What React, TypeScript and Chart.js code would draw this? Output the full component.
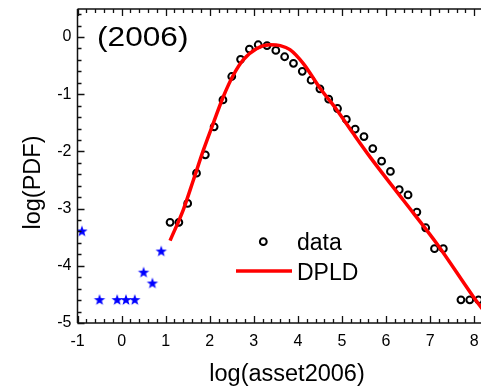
import { useEffect, useRef } from "react";
import { Chart, registerables } from "chart.js";

Chart.register(...registerables);

// ---- data ----
const starX = [-0.9, -0.5, -0.1, 0.1, 0.3, 0.5, 0.7, 0.9];
const starY = [-3.4, -4.6, -4.6, -4.6, -4.6, -4.12, -4.31, -3.75];

const dataX = [1.1, 1.3, 1.5, 1.7, 1.9, 2.1, 2.3, 2.5, 2.7, 2.9, 3.1, 3.3, 3.5, 3.7, 3.9, 4.1, 4.3, 4.5, 4.7, 4.9, 5.1, 5.3, 5.5, 5.7, 5.9, 6.1, 6.3, 6.5, 6.7, 6.9, 7.1, 7.3, 7.7, 7.9, 8.1];
const dataY = [-3.24, -3.24, -2.91, -2.38, -2.06, -1.57, -1.1, -0.69, -0.39, -0.21, -0.135, -0.15, -0.235, -0.345, -0.46, -0.6, -0.755, -0.905, -1.087, -1.25, -1.44, -1.61, -1.74, -1.95, -2.17, -2.35, -2.67, -2.76, -3.06, -3.335, -3.7, -3.7, -4.595, -4.595, -4.595];

const fitX = [1.1, 1.4, 1.63, 1.86, 2.08, 2.31, 2.54, 2.76, 3.07, 3.37, 3.6, 3.82, 4.12, 4.5, 4.88, 5.25, 5.64, 6.39, 7.15, 7.98, 8.2];
const fitY = [-3.56, -3.02, -2.5, -1.97, -1.51, -1.04, -0.66, -0.4, -0.2, -0.135, -0.15, -0.22, -0.46, -0.89, -1.27, -1.68, -2.1, -2.85, -3.61, -4.54, -4.77];

const xTicks = [-1, 0, 1, 2, 3, 4, 5, 6, 7, 8];
const yTicks = [-5, -4, -3, -2, -1, 0];
const xTitle = "log(asset2006)";
const yTitle = "log(PDF)";
const panelLabel = "(2006)";
const legendLabels = ["data", "DPLD"];

const FONT = "'Liberation Sans', Arial, Helvetica, sans-serif";

function makeStar(R: number, color: string) {
  const s = Math.ceil(2 * R + 2);
  const c = document.createElement("canvas");
  c.width = s;
  c.height = s;
  const ctx = c.getContext("2d")!;
  const cx = s / 2;
  const cy = s / 2;
  ctx.beginPath();
  for (let i = 0; i < 10; i++) {
    const a = -Math.PI / 2 + (i * Math.PI) / 5;
    const r = i % 2 === 0 ? R : R * 0.4;
    const px = cx + r * Math.cos(a);
    const py = cy + r * Math.sin(a);
    if (i === 0) ctx.moveTo(px, py);
    else ctx.lineTo(px, py);
  }
  ctx.closePath();
  ctx.fillStyle = color;
  ctx.fill();
  return c;
}

const framePlugin = {
  id: "frame",
  afterDraw(chart: any) {
    const { ctx, chartArea, scales } = chart;
    const xs = scales.x;
    const ys = scales.y;
    const { left, right, top, bottom } = chartArea;
    ctx.save();
    ctx.strokeStyle = "#111";
    ctx.lineWidth = 1.5;
    ctx.beginPath();
    ctx.moveTo(left, top);
    ctx.lineTo(right, top);
    ctx.moveTo(left, top);
    ctx.lineTo(left, bottom);
    ctx.moveTo(left, bottom);
    ctx.lineTo(right, bottom);
    ctx.stroke();
    ctx.lineWidth = 1.3;
    ctx.beginPath();
    for (let i = -5; i <= 45; i++) {
      const v = i * 0.2;
      if (v < xs.min - 1e-9 || v > xs.max + 1e-9) continue;
      const px = Math.round(xs.getPixelForValue(v)) + 0.5;
      const len = i % 5 === 0 ? 7 : 4;
      ctx.moveTo(px, bottom);
      ctx.lineTo(px, bottom - len);
      ctx.moveTo(px, top);
      ctx.lineTo(px, top + len);
    }
    for (let i = -25; i <= 5; i++) {
      const v = i * 0.2;
      if (v < ys.min - 1e-9 || v > ys.max + 1e-9) continue;
      const py = Math.round(ys.getPixelForValue(v)) + 0.5;
      const len = i % 5 === 0 ? 7 : 4;
      ctx.moveTo(left, py);
      ctx.lineTo(left + len, py);
    }
    ctx.stroke();

    // axis titles
    ctx.fillStyle = "#000";
    ctx.font = `23.5px ${FONT}`;
    ctx.textAlign = "center";
    ctx.textBaseline = "alphabetic";
    ctx.fillText(xTitle, 287, 381);
    ctx.save();
    ctx.translate(39.5, 182.5);
    ctx.rotate(-Math.PI / 2);
    ctx.fillText(yTitle, 0, 0);
    ctx.restore();

    // panel label
    ctx.save();
    ctx.textAlign = "left";
    ctx.font = `28px ${FONT}`;
    ctx.translate(97, 46);
    ctx.scale(1.13, 1);
    ctx.fillText(panelLabel, 0, 0);
    ctx.restore();

    // legend
    ctx.textAlign = "left";
    ctx.font = `23px ${FONT}`;
    ctx.fillText(legendLabels[0], 297, 250);
    ctx.fillText(legendLabels[1], 297, 280);
    ctx.beginPath();
    ctx.arc(263.3, 241.7, 3.4, 0, Math.PI * 2);
    ctx.lineWidth = 2;
    ctx.strokeStyle = "#000";
    ctx.stroke();
    ctx.beginPath();
    ctx.moveTo(236, 271);
    ctx.lineTo(292, 271);
    ctx.lineWidth = 3.5;
    ctx.strokeStyle = "#ff0000";
    ctx.stroke();
    ctx.restore();
  },
};

export default function App() {
  const ref = useRef<HTMLCanvasElement | null>(null);
  useEffect(() => {
    document.body.style.margin = "0";
    const canvas = ref.current!;
    const star = makeStar(6, "#0000ff");
    const chart = new Chart(canvas, {
      type: "scatter",
      data: {
        datasets: [
          {
            label: legendLabels[1],
            data: fitX.map((x, i) => ({ x, y: fitY[i] })),
            showLine: true,
            borderColor: "#ff0000",
            borderWidth: 3.5,
            pointRadius: 0,
            cubicInterpolationMode: "monotone",
          } as any,
          {
            label: legendLabels[0],
            data: dataX.map((x, i) => ({ x, y: dataY[i] })),
            pointStyle: "circle",
            pointRadius: 3.4,
            borderWidth: 2,
            borderColor: "#000",
            backgroundColor: "rgba(255,255,255,0)",
          },
          {
            label: "low",
            data: starX.map((x, i) => ({ x, y: starY[i] })),
            pointStyle: star as any,
            pointRadius: 6,
          },
        ],
      },
      options: {
        animation: false,
        responsive: false,
        events: [],
        layout: { autoPadding: false, padding: { top: 9, right: 0, left: 0, bottom: 0 } },
        plugins: { legend: { display: false }, tooltip: { enabled: false } },
        scales: {
          x: {
            type: "linear",
            min: -1,
            max: 8.155,
            grid: { display: false, drawTicks: false },
            border: { display: false },
            afterBuildTicks: (s: any) => {
              s.ticks = xTicks.map((v) => ({ value: v }));
            },
            afterFit: (s: any) => {
              s.height = 67;
              s.paddingLeft = 0;
              s.paddingRight = 0;
            },
            ticks: {
              color: "#000",
              font: { family: FONT, size: 16 },
              padding: 9,
              maxRotation: 0,
              callback: (v: any) => String(v),
            },
          },
          y: {
            type: "linear",
            min: -5,
            max: 0.49,
            grid: { display: false, drawTicks: false },
            border: { display: false },
            afterBuildTicks: (s: any) => {
              s.ticks = yTicks.map((v) => ({ value: v }));
            },
            afterFit: (s: any) => {
              s.width = 77.5;
              s.paddingTop = 0;
              s.paddingBottom = 0;
            },
            ticks: {
              color: "#000",
              font: { family: FONT, size: 16 },
              padding: 6,
              callback: (v: any) => String(v),
            },
          },
        },
      },
      plugins: [framePlugin],
    });
    return () => chart.destroy();
  }, []);
  return (
    <div style={{ width: 481, height: 390 }}>
      <canvas ref={ref} width={481} height={390} style={{ display: "block" }} />
    </div>
  );
}
